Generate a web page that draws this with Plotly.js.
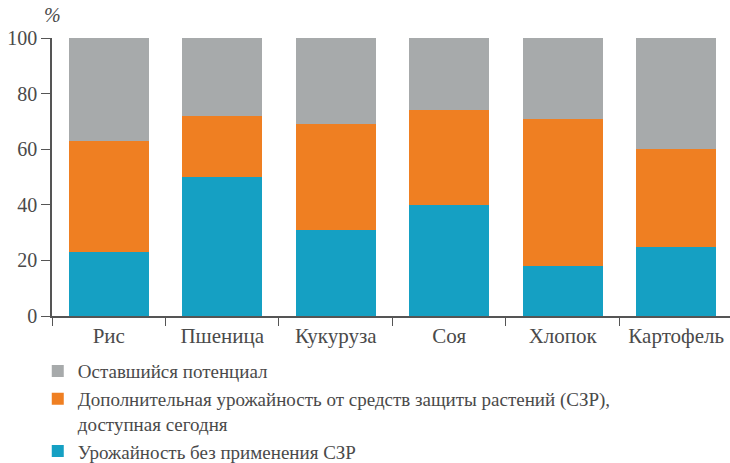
<!DOCTYPE html>
<html>
<head>
<meta charset="utf-8">
<script src="https://cdn.plot.ly/plotly-3.0.1.min.js"></script>
<style>
html,body{margin:0;padding:0;background:#fff;}
#chart{width:730px;height:463px;}
#chart svg text{font-family:"Liberation Serif" !important;}
</style>
</head>
<body>
<div id="chart"></div>
<script>
const categories = ["Рис", "Пшеница", "Кукуруза", "Соя", "Хлопок", "Картофель"];
const withoutProtection = [23, 50, 31, 40, 18, 25];
const additionalYield = [40, 22, 38, 34, 53, 35];
const remainingPotential = [37, 28, 31, 26, 29, 40];
const seriesNames = [
  "Урожайность без применения СЗР",
  "Дополнительная урожайность от средств защиты растений (СЗР),<br>доступная сегодня",
  "Оставшийся потенциал"
];
const yTicks = [0, 20, 40, 60, 80, 100];

const colors = ["#15A0C3", "#EF7F22", "#A7AAAB"];
const FAM = "Liberation Serif";
const TXT = "#4a4a4a";

const traces = [withoutProtection, additionalYield, remainingPotential].map((vals, i) => ({
  type: "bar",
  x: categories,
  y: vals,
  name: seriesNames[i],
  marker: {color: colors[i], line: {width: 0}},
  hoverinfo: "x+y+name"
}));

const layout = {
  width: 730, height: 463,
  margin: {l: 52, r: 0, t: 38, b: 147, autoexpand: false},
  paper_bgcolor: "#fff", plot_bgcolor: "#fff",
  barmode: "stack",
  bargap: 0.295,
  font: {family: FAM, size: 19, color: TXT},
  showlegend: true,
  legend: {
    orientation: "v", traceorder: "reversed", valign: "top",
    x: -0.021, xanchor: "left", y: -0.13, yanchor: "top",
    font: {family: FAM, size: 19, color: TXT}, tracegroupgap: 0
  },
  xaxis: {
    type: "category",
    range: [-0.5, 5.474],
    showline: true, linecolor: "#555", linewidth: 1.5,
    ticks: "outside", tickson: "boundaries", ticklen: 8, tickcolor: "#555", tickwidth: 1,
    tickfont: {family: FAM, size: 21, color: TXT}, showgrid: false, zeroline: false
  },
  yaxis: {
    range: [0, 100], tickvals: yTicks,
    showline: true, linecolor: "#555", linewidth: 1.5,
    ticks: "outside", ticklen: 9, tickcolor: "#555", tickwidth: 1,
    tickfont: {family: FAM, size: 20, color: TXT}, showgrid: false, zeroline: false
  },
  annotations: [{
    text: "<i>%</i>", xref: "paper", yref: "paper", x: 0, y: 1, xanchor: "center", yanchor: "bottom",
    yshift: 10, showarrow: false, font: {family: FAM, size: 20, color: TXT}
  }]
};

Plotly.newPlot("chart", traces, layout, {displayModeBar: false});
</script>
</body>
</html>
